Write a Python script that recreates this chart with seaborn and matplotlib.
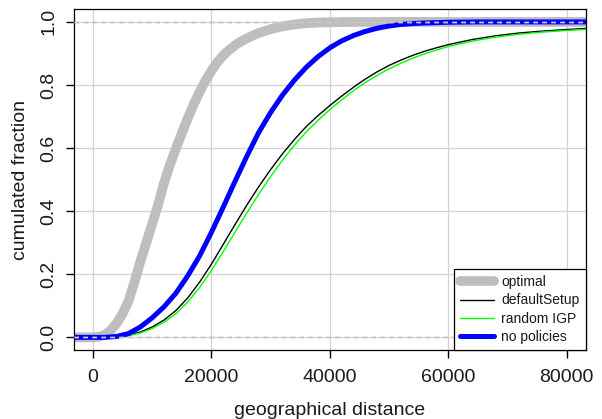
import matplotlib
matplotlib.use("Agg")
import matplotlib.pyplot as plt
import seaborn as sns
import pandas as pd
from matplotlib.lines import Line2D

# cumulative fraction curves
opt_x = [-5000, 0, 1000, 2000, 3000, 4000, 5000, 6000, 7000, 8000, 9000, 10000,
         11000, 12000, 13000, 14000, 15000, 16000, 17000, 18000, 19000, 20000,
         21000, 22000, 23000, 24000, 25000, 26000, 27000, 28000, 29000, 30000,
         32000, 34000, 36000, 38000, 40000, 45000, 90000]
opt_y = [0, 0, 0.002, 0.008, 0.022, 0.045, 0.075, 0.115, 0.175, 0.24, 0.3, 0.36,
         0.42, 0.49, 0.547, 0.598, 0.647, 0.694, 0.738, 0.778, 0.814, 0.845,
         0.872, 0.894, 0.911, 0.926, 0.938, 0.948, 0.957, 0.965, 0.971, 0.977,
         0.986, 0.992, 0.996, 0.998, 0.999, 1.0, 1.0]

def_x = [-5000, 2000, 4000, 6000, 8000, 10000, 12000, 14000, 16000, 18000, 20000,
         22000, 24000, 26000, 28000, 30000, 32000, 34000, 36000, 38000, 40000,
         42000, 44000, 46000, 48000, 50000, 52000, 54000, 56000, 58000, 60000,
         64000, 68000, 72000, 76000, 80000, 84000, 90000]
def_y = [0, 0, 0.002, 0.007, 0.017, 0.033, 0.055, 0.085, 0.125, 0.175, 0.232,
         0.295, 0.358, 0.42, 0.478, 0.532, 0.582, 0.627, 0.668, 0.703, 0.735,
         0.765, 0.793, 0.819, 0.842, 0.862, 0.879, 0.894, 0.907, 0.918, 0.928,
         0.944, 0.956, 0.965, 0.971, 0.976, 0.98, 0.985]

rnd_x = [-5000, 2000, 4000, 6000, 8000, 10000, 12000, 14000, 16000, 18000, 20000,
         22000, 24000, 26000, 28000, 30000, 32000, 34000, 36000, 38000, 40000,
         42000, 44000, 46000, 48000, 50000, 52000, 54000, 56000, 58000, 60000,
         64000, 68000, 72000, 76000, 80000, 84000, 90000]
rnd_y = [0, 0, 0.001, 0.005, 0.014, 0.028, 0.048, 0.075, 0.112, 0.158, 0.212,
         0.272, 0.334, 0.395, 0.454, 0.51, 0.562, 0.609, 0.651, 0.688, 0.722,
         0.753, 0.782, 0.808, 0.831, 0.851, 0.869, 0.885, 0.899, 0.911, 0.922,
         0.939, 0.952, 0.961, 0.968, 0.973, 0.977, 0.982]

nop_x = [-5000, 2000, 4000, 6000, 8000, 10000, 12000, 14000, 16000, 18000, 20000,
         22000, 24000, 26000, 28000, 30000, 32000, 34000, 36000, 38000, 40000,
         42000, 44000, 46000, 48000, 50000, 52000, 55000, 60000, 65000, 90000]
nop_y = [0, 0, 0.003, 0.012, 0.033, 0.062, 0.097, 0.14, 0.195, 0.258, 0.333,
         0.413, 0.495, 0.575, 0.65, 0.713, 0.768, 0.815, 0.856, 0.89, 0.918,
         0.94, 0.957, 0.97, 0.98, 0.987, 0.992, 0.996, 0.999, 1.0, 1.0]

labels = ["optimal", "defaultSetup", "random IGP", "no policies"]
colors = ["#BEBEBE", "black", "#00FF00", "#0000FF"]
widths = [7.0, 1.0, 1.0, 3.6]
x_ticks = [0, 20000, 40000, 60000, 80000]
y_ticks = [0.0, 0.2, 0.4, 0.6, 0.8, 1.0]

sns.set_style("ticks")
plt.rcParams["font.family"] = ["Liberation Sans", "DejaVu Sans"]
plt.rcParams["text.color"] = "#1a1a1a"
plt.rcParams["axes.labelcolor"] = "#1a1a1a"

fig = plt.figure(figsize=(6.02, 4.19), dpi=100)
ax = fig.add_axes([74 / 602, 1 - 350 / 419, (585.7 - 74) / 602, (350 - 9.3) / 419])

# grid
for xt in x_ticks:
    ax.axvline(xt, color="#D3D3D3", linewidth=0.9, zorder=0)
for yt in y_ticks:
    ax.axhline(yt, color="#D3D3D3", linewidth=0.9, zorder=0)

curves = [(opt_x, opt_y), (def_x, def_y), (rnd_x, rnd_y), (nop_x, nop_y)]
for (cx, cy), lab, col, lw in zip(curves, labels, colors, widths):
    df = pd.DataFrame({"x": cx, "y": cy})
    sns.lineplot(data=df, x="x", y="y", color=col, linewidth=lw,
                 solid_capstyle="butt", solid_joinstyle="round", ax=ax, zorder=2)
    for h in [0, 1]:
        ax.axhline(h, color="#C8C8C8", linewidth=0.9, linestyle=(0, (3.6, 3.6)), zorder=3)

ax.set_xlim(-3200, 83200)
ax.set_ylim(-0.04, 1.04)
ax.set_xticks(x_ticks)
ax.set_xticklabels([str(t) for t in x_ticks], fontsize=14, color="#1a1a1a")
ax.set_yticks(y_ticks)
ax.set_yticklabels([f"{t:.1f}" for t in y_ticks], fontsize=14, rotation=90,
                   va="center", color="#1a1a1a")
for sp in ax.spines.values():
    sp.set_visible(True)
    sp.set_color("black")
    sp.set_linewidth(0.9)

ax.set_xlabel("geographical distance", fontsize=14, labelpad=11)
ax.set_ylabel("cumulated fraction", fontsize=14, labelpad=8)

handles = [Line2D([0], [0], color=c, linewidth=w, solid_capstyle="round")
           for c, w in zip(colors, widths)]
leg = ax.legend(handles, labels, loc="lower right", fontsize=10, frameon=True,
                fancybox=False, borderaxespad=0, handlelength=2.4,
                labelspacing=0.3, borderpad=0.45, handletextpad=0.55)
leg.get_frame().set_edgecolor("black")
leg.get_frame().set_linewidth(0.9)
leg.get_frame().set_alpha(1)

# R-style outward ticks
ax.tick_params(axis="both", direction="out", length=6, width=1.0, color="black")
ax.tick_params(axis="x", pad=8)
ax.tick_params(axis="y", pad=6)

fig.savefig("out.png", dpi=100)
